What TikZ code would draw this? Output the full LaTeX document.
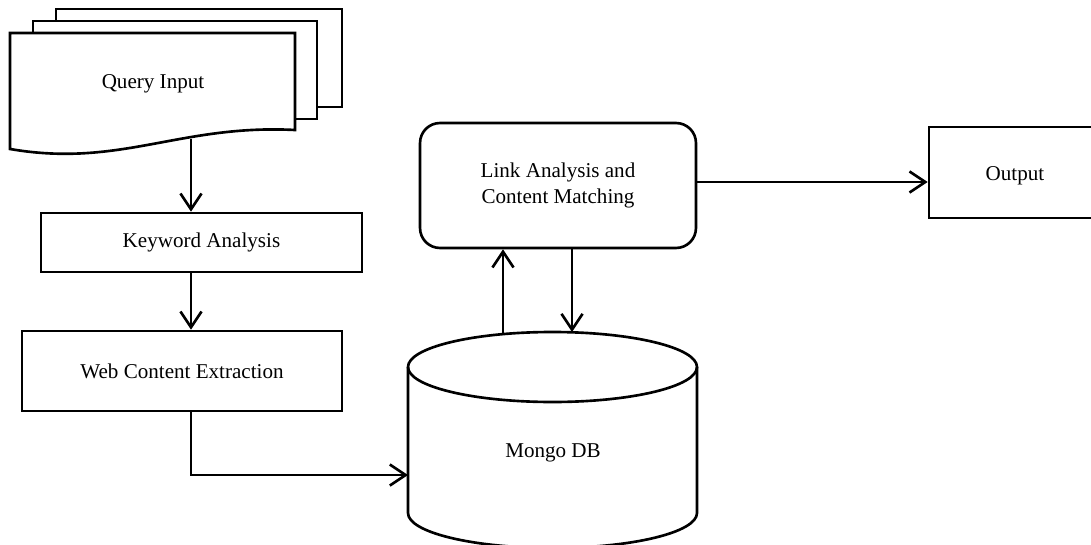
\documentclass[tikz,border=0pt]{standalone}
\usepackage{fontspec}
\setmainfont{Liberation Serif}
\usetikzlibrary{arrows.meta}

\begin{document}
\begin{tikzpicture}[x=0.02cm, y=-0.02cm, line width=1.5pt,
    every node/.style={font=\fontsize{12}{14.5}\selectfont, align=center},
    box/.style={draw, rectangle, inner sep=0pt},
    page/.style={draw, fill=white},
    arr/.style={-{Straight Barb[length=9pt, width=12pt]}}]
    \useasboundingbox (0,0) rectangle (1091,544) ;

    \draw [page] (56,9) rectangle (342,107) ;
    \draw [page] (33,21) rectangle (317,119) ;
    \draw [page] (10,33) -- (295,33) -- (295,130)
        .. controls (180,124) and (120,168) .. (10,149) -- cycle ;
    \node (query) at (153,84) {Query Input} ;
    \coordinate (qbot) at (191,139) ;

    \node [box, minimum width=6.42cm, minimum height=1.18cm] (kw) at (201.5,242.5) {Keyword Analysis} ;
    \node [box, minimum width=6.4cm, minimum height=1.6cm] (web) at (182,371) {Web Content Extraction} ;

    \draw [fill=white] (408,367) -- (408,513) arc [start angle=180, end angle=360, x radius=144.5, y radius=-35]
        -- (697,367) ;
    \draw (552.5,367) ellipse [x radius=144.5, y radius=35] ;
    \node (mongo) at (553,453) {Mongo DB} ;
    \coordinate (cylw) at (408,475) ;

    \node [box, rounded corners=0.4cm, minimum width=5.52cm, minimum height=2.5cm] (link) at (558,185.5)
        {Link Analysis and\\Content Matching} ;
    \node [box, minimum width=3.44cm, minimum height=1.82cm, text height=1.15em, text depth=0.22em] (out)
        at (1015,172.5) {Output} ;

    \draw [arr] (qbot) -- (qbot |- kw.north) ;
    \draw [arr] (qbot |- kw.south) -- (qbot |- web.north) ;
    \draw [arr] (qbot |- web.south) |- (cylw) ;

    \coordinate (upfoot) at (503,334) ;
    \coordinate (downtip) at (572,332) ;
    \draw [arr] (upfoot) -- (upfoot |- link.south) ;
    \draw [arr] (downtip |- link.south) -- (downtip) ;
    \draw [arr] ([yshift=0.07cm]link.east) -- ([yshift=0.07cm]link.east -| out.west) ;
\end{tikzpicture}
\end{document}
